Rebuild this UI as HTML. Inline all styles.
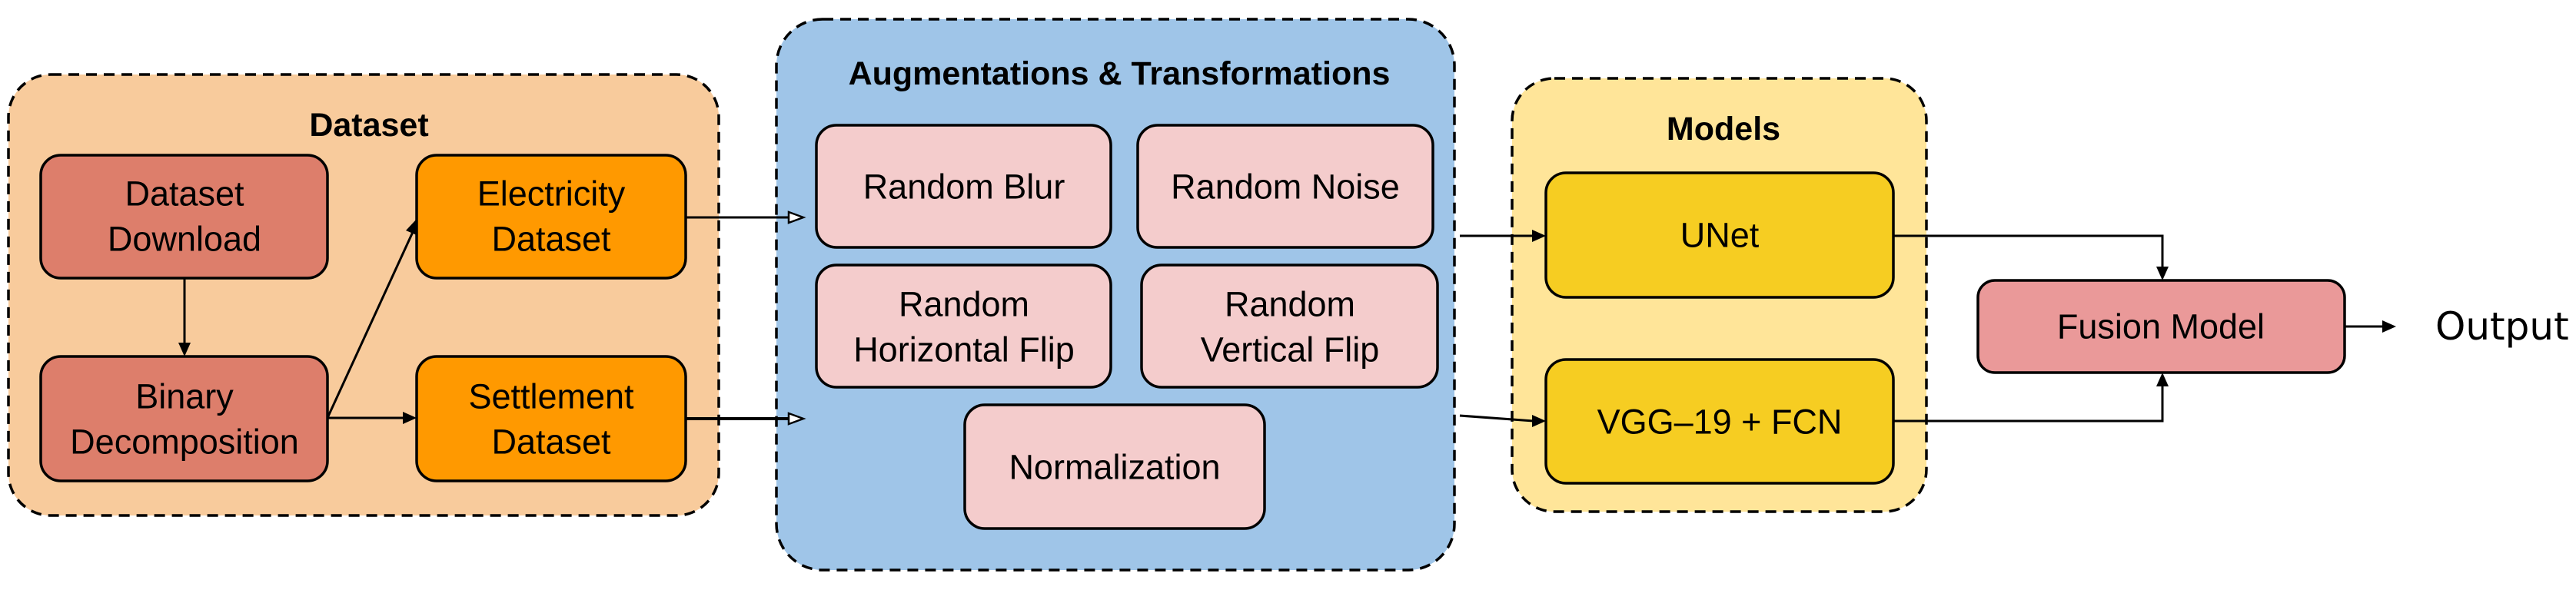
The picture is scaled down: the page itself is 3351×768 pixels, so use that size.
<!DOCTYPE html>
<html><head><meta charset="utf-8"><style>
html,body{margin:0;padding:0;background:#fff;}
svg{display:block;}
text{font-family:"Liberation Sans",Arial,sans-serif;fill:#000;}
.t{font-size:45px;text-anchor:middle;dominant-baseline:central;}
.h{font-size:43px;font-weight:bold;text-anchor:middle;dominant-baseline:central;}
.n{stroke:#000;stroke-width:3.5;}
.g{stroke:#000;stroke-width:3.5;stroke-dasharray:14 9;}
.l{stroke:#000;stroke-width:3;fill:none;}
</style></head><body>
<svg width="3351" height="768" viewBox="0 0 3351 768" xmlns="http://www.w3.org/2000/svg">
<defs>
<marker id="a" markerWidth="10" markerHeight="10" refX="9" refY="5" orient="auto" markerUnits="userSpaceOnUse" viewBox="0 0 10 10">
</marker>
</defs>
<!-- groups -->
<rect class="g" x="11" y="97" width="924" height="574" rx="55" fill="#f8cb9c"/>
<rect class="g" x="1010" y="25" width="882" height="717" rx="60" fill="#9fc5e8"/>
<rect class="g" x="1967" y="102" width="539" height="564" rx="55" fill="#ffe599"/>
<text class="h" x="480" y="163">Dataset</text>
<text class="h" x="1456" y="96">Augmentations &amp; Transformations</text>
<text class="h" x="2242" y="168">Models</text>
<!-- dataset nodes -->
<rect class="n" x="53" y="202" width="373" height="160" rx="26" fill="#dd7e6b"/>
<text class="t" x="240" y="252">Dataset</text><text class="t" x="240" y="311">Download</text>
<rect class="n" x="53" y="464" width="373" height="162" rx="26" fill="#dd7e6b"/>
<text class="t" x="240" y="516">Binary</text><text class="t" x="240" y="575">Decomposition</text>
<rect class="n" x="542" y="202" width="350" height="160" rx="26" fill="#ff9900"/>
<text class="t" x="717" y="252">Electricity</text><text class="t" x="717" y="311">Dataset</text>
<rect class="n" x="542" y="464" width="350" height="162" rx="26" fill="#ff9900"/>
<text class="t" x="717" y="516">Settlement</text><text class="t" x="717" y="575">Dataset</text>
<!-- aug nodes -->
<rect class="n" x="1062" y="163" width="383" height="159" rx="26" fill="#f4cccc"/>
<text class="t" x="1254" y="243">Random Blur</text>
<rect class="n" x="1480" y="163" width="384" height="159" rx="26" fill="#f4cccc"/>
<text class="t" x="1672" y="243">Random Noise</text>
<rect class="n" x="1062" y="345" width="383" height="159" rx="26" fill="#f4cccc"/>
<text class="t" x="1254" y="396">Random</text><text class="t" x="1254" y="455">Horizontal Flip</text>
<rect class="n" x="1485" y="345" width="385" height="159" rx="26" fill="#f4cccc"/>
<text class="t" x="1678" y="396">Random</text><text class="t" x="1678" y="455">Vertical Flip</text>
<rect class="n" x="1255" y="527" width="390" height="161" rx="26" fill="#f4cccc"/>
<text class="t" x="1450" y="608">Normalization</text>
<!-- models -->
<rect class="n" x="2011" y="225" width="452" height="162" rx="26" fill="#f6cd22"/>
<text class="t" x="2237" y="306">UNet</text>
<rect class="n" x="2011" y="468" width="452" height="161" rx="26" fill="#f6cd22"/>
<text class="t" x="2237" y="549">VGG–19 + FCN</text>
<rect class="n" x="2573" y="365" width="477" height="120" rx="22" fill="#ea9999"/>
<text class="t" x="2811" y="425">Fusion Model</text>
<text x="3168" y="425" style="font-family:'DejaVu Sans',sans-serif;font-size:50px;dominant-baseline:central;">Output</text>
<!-- connectors -->
<path class="l" d="M240 362 V448"/><path d="M232 446 L240 464 L248 446 Z"/>
<path class="l" d="M426 544 L537 302"/><path d="M528 300 L542 285 L542 306 Z"/>
<path class="l" d="M426 544 H526"/><path d="M524 536 L542 544 L524 552 Z"/>
<path class="l" d="M892 283 H1030"/><path d="M1026 276 L1045 283 L1026 290 Z" fill="#fff" stroke="#000" stroke-width="2.5"/>
<path class="l" d="M892 545 H1030" style="stroke-width:4"/><path d="M1026 538 L1045 545 L1026 552 Z" fill="#fff" stroke="#000" stroke-width="2.5"/>
<path class="l" d="M1899 307 H1995"/><path d="M1993 299 L2011 307 L1993 315 Z"/>
<path class="l" d="M1899 541 L1995 548"/><path d="M1993 540 L2011 548 L1993 556 Z"/>
<path class="l" d="M2463 307 H2813 V349"/><path d="M2805 347 L2813 365 L2821 347 Z"/>
<path class="l" d="M2463 548 H2813 V501"/><path d="M2805 503 L2813 485 L2821 503 Z"/>
<path class="l" d="M3050 425 H3101"/><path d="M3099 417 L3117 425 L3099 433 Z"/>
</svg>
</body></html>
